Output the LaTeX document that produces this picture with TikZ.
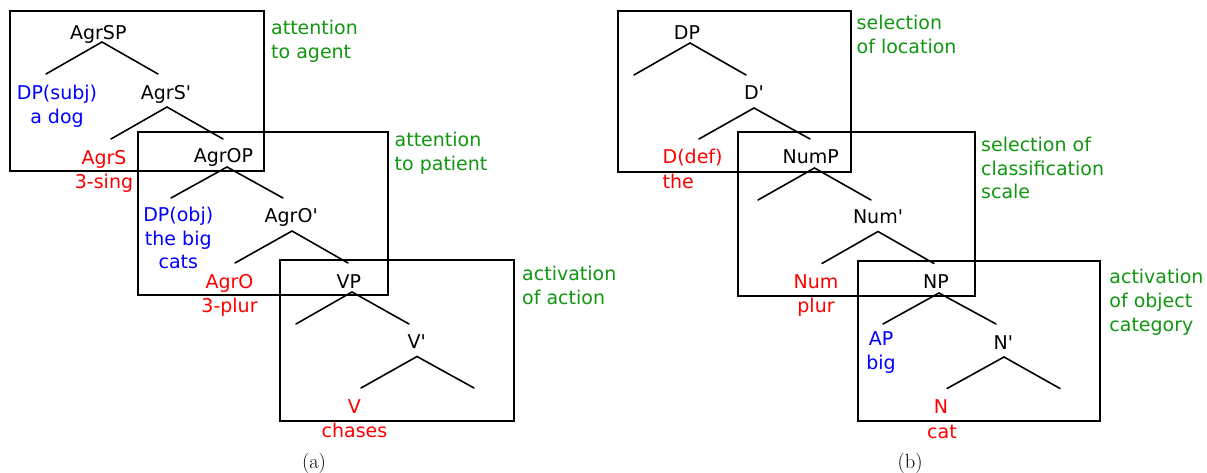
\documentclass[tikz,border=0pt]{standalone}
\usepackage{fontspec}
\newfontfamily\labfont{DejaVu Sans}
\definecolor{catblue}{RGB}{0,0,255}
\definecolor{headred}{RGB}{255,0,0}
\definecolor{notegreen}{RGB}{16,150,16}
\tikzset{
  lbl/.style={font=\labfont\fontsize{19}{24}\selectfont, inner sep=0pt, anchor=base},
  phrase/.style={lbl, text=black},
  headlbl/.style={lbl, text=headred},
  speclbl/.style={lbl, text=catblue},
  notelbl/.style={lbl, anchor=base west, text=notegreen},
  branch/.style={line width=1.6pt, line cap=round},
  region/.style={draw, line width=2pt},
  subcap/.style={font=\fontsize{20.5}{24}\selectfont, inner sep=0pt, anchor=base}
}
\begin{document}
\begin{tikzpicture}[x=1pt, y=-1pt]
\useasboundingbox (0,0) rectangle (1207,473);

% ---------------- (a) clause structure ----------------
\draw[region] (10,11) rectangle (264,171);
\draw[region] (138,132) rectangle (388,295);
\draw[region] (280,260) rectangle (514,421);

\node[notelbl] (na1) at (271,34.3) {attention};
\node[notelbl] (na2) at (271,58.3) {to agent};
\node[notelbl] (nb1) at (394.5,147) {attention};
\node[notelbl] (nb2) at (394.5,171) {to patient};
\node[notelbl] (nc1) at (522,280) {activation};
\node[notelbl] (nc2) at (522,304) {of action};

\node[phrase] (agrsp) at (98.3,39.3) {AgrSP};
\coordinate (agrsp-t) at (102,42);
\coordinate (agrsp-l) at (46,74);
\coordinate (agrsp-r) at (158,74);
\draw[branch] (agrsp-l) -- (agrsp-t) -- (agrsp-r);

\node[speclbl] (subj1) at (57,100) {DP(subj)};
\node[speclbl] (subj2) at (57,124) {a dog};

\node[phrase] (agrsbar) at (166,99.3) {AgrS'};
\coordinate (agrsbar-t) at (167,107);
\coordinate (agrsbar-l) at (111,139);
\coordinate (agrsbar-r) at (223,139);
\draw[branch] (agrsbar-l) -- (agrsbar-t) -- (agrsbar-r);

\node[headlbl] (agrs1) at (104,164.3) {AgrS};
\node[headlbl] (agrs2) at (104,188.3) {3-sing};

\node[phrase] (agrop) at (223.5,163) {AgrOP};
\coordinate (agrop-t) at (227,167);
\coordinate (agrop-l) at (171,198);
\coordinate (agrop-r) at (283,198);
\draw[branch] (agrop-l) -- (agrop-t) -- (agrop-r);

\node[speclbl] (obj1) at (178.3,221.5) {DP(obj)};
\node[speclbl] (obj2) at (178.3,245) {the big};
\node[speclbl] (obj3) at (178.3,268.5) {cats};

\node[phrase] (agrobar) at (291.2,222.7) {AgrO'};
\coordinate (agrobar-t) at (292,231);
\coordinate (agrobar-l) at (235,263);
\coordinate (agrobar-r) at (348,263);
\draw[branch] (agrobar-l) -- (agrobar-t) -- (agrobar-r);

\node[headlbl] (agro1) at (229.5,288.3) {AgrO};
\node[headlbl] (agro2) at (229.5,312.3) {3-plur};

\node[phrase] (vp) at (348.8,288.3) {VP};
\coordinate (vp-t) at (352,292);
\coordinate (vp-l) at (296,324);
\coordinate (vp-r) at (409,324);
\draw[branch] (vp-l) -- (vp-t) -- (vp-r);

\node[phrase] (vbar) at (416.7,348.3) {V'};
\coordinate (vbar-t) at (417,356.5);
\coordinate (vbar-l) at (361,388);
\coordinate (vbar-r) at (474,388);
\draw[branch] (vbar-l) -- (vbar-t) -- (vbar-r);

\node[headlbl] (v1) at (354.3,413.3) {V};
\node[headlbl] (v2) at (354.5,437.3) {chases};

\node[subcap] (capa) at (314,468) {(a)};

% ---------------- (b) noun phrase structure ----------------
\draw[region] (618,11) rectangle (851,172);
\draw[region] (738,132) rectangle (975,296);
\draw[region] (858,261) rectangle (1100,421);

\node[notelbl] (nd1) at (856.5,30) {selection};
\node[notelbl] (nd2) at (856.5,53.5) {of location};
\node[notelbl] (ne1) at (981,151.7) {selection of};
\node[notelbl] (ne2) at (981,175.3) {classification};
\node[notelbl] (ne3) at (981,199) {scale};
\node[notelbl] (nf1) at (1109.2,283.3) {activation};
\node[notelbl] (nf2) at (1109.2,307.3) {of object};
\node[notelbl] (nf3) at (1109.2,331) {category};

\node[phrase] (dp) at (687,40) {DP};
\coordinate (dp-t) at (690,43);
\coordinate (dp-l) at (634,75);
\coordinate (dp-r) at (746,75);
\draw[branch] (dp-l) -- (dp-t) -- (dp-r);

\node[phrase] (dbar) at (754,100) {D'};
\coordinate (dbar-t) at (754,108);
\coordinate (dbar-l) at (699,139);
\coordinate (dbar-r) at (810,139);
\draw[branch] (dbar-l) -- (dbar-t) -- (dbar-r);

\node[headlbl, anchor=base west] (d1) at (662.5,164) {D(def)};
\node[headlbl, anchor=base west] (d2) at (662.5,188.3) {the};

\node[phrase] (nump) at (810.7,164) {NumP};
\coordinate (nump-t) at (814.5,168);
\coordinate (nump-l) at (758,200);
\coordinate (nump-r) at (871,200);
\draw[branch] (nump-l) -- (nump-t) -- (nump-r);

\node[phrase] (numbar) at (878,223.5) {Num'};
\coordinate (numbar-t) at (878,231.5);
\coordinate (numbar-l) at (822,263.5);
\coordinate (numbar-r) at (934,263.5);
\draw[branch] (numbar-l) -- (numbar-t) -- (numbar-r);

\node[headlbl] (num1) at (816,288.3) {Num};
\node[headlbl] (num2) at (816,312.5) {plur};

\node[phrase] (np) at (936,288.3) {NP};
\coordinate (np-t) at (939,293);
\coordinate (np-l) at (883,324);
\coordinate (np-r) at (996,324);
\draw[branch] (np-l) -- (np-t) -- (np-r);

\node[speclbl] (ap1) at (881,345.7) {AP};
\node[speclbl] (ap2) at (881,369.5) {big};

\node[phrase] (nbar) at (1003.3,349) {N'};
\coordinate (nbar-t) at (1004,357);
\coordinate (nbar-l) at (947,388.5);
\coordinate (nbar-r) at (1060,388.5);
\draw[branch] (nbar-l) -- (nbar-t) -- (nbar-r);

\node[headlbl] (n1) at (941,413.3) {N};
\node[headlbl] (n2) at (942,438) {cat};

\node[subcap] (capb) at (910,468) {(b)};
\end{tikzpicture}
\end{document}
